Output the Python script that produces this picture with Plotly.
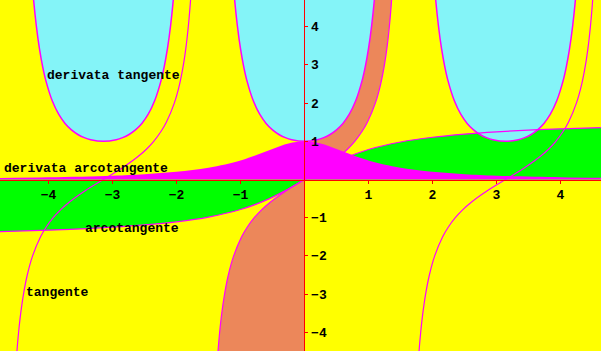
import plotly.graph_objects as go

# ---------------- data ----------------
# axis ranges
X_RANGE = [-4.758, 4.633]
Y_RANGE = [-4.49, 4.70]
TICKS = [-4, -3, -2, -1, 1, 2, 3, 4]

# tangente: three branches (shared y values)
TAN_Y = [-5, -4.5, -4, -3.5, -3, -2.5, -2, -1.5, -1.25, -1, -0.8, -0.6, -0.3, 0,
         0.3, 0.6, 0.8, 1, 1.25, 1.5, 2, 2.5, 3, 3.5, 4, 4.5, 5]
TAN_X_LEFT = [-4.5150, -4.4937, -4.4674, -4.4341, -4.3906, -4.3319, -4.2487, -4.1244,
              -4.0377, -3.9270, -3.8163, -3.6820, -3.4331, -3.1416, -2.8501, -2.6012,
              -2.4669, -2.3562, -2.2455, -2.1588, -2.0345, -1.9513, -1.8926, -1.8491,
              -1.8158, -1.7895, -1.7682]
TAN_X_MID = [-1.3734, -1.3521, -1.3258, -1.2925, -1.2490, -1.1903, -1.1071, -0.9828,
             -0.8961, -0.7854, -0.6747, -0.5404, -0.2915, 0, 0.2915, 0.5404, 0.6747,
             0.7854, 0.8961, 0.9828, 1.1071, 1.1903, 1.2490, 1.2925, 1.3258, 1.3521,
             1.3734]
TAN_X_RIGHT = [1.7682, 1.7895, 1.8158, 1.8491, 1.8926, 1.9513, 2.0345, 2.1588, 2.2455,
               2.3562, 2.4669, 2.6012, 2.8501, 3.1416, 3.4331, 3.6820, 3.8163, 3.9270,
               4.0377, 4.1244, 4.2487, 4.3319, 4.3906, 4.4341, 4.4674, 4.4937, 4.5150]

# derivata tangente: three U-shaped branches (shared y values)
DTAN_Y = [5.9929, 4.8603, 4.0392, 3.4255, 2.9555, 2.5880, 2.0602, 1.7095, 1.4680,
          1.2984, 1.1788, 1.0957, 1.0411, 1.0, 1.0411, 1.0957, 1.1788, 1.2984, 1.4680,
          1.7095, 2.0602, 2.5880, 2.9555, 3.4255, 4.0392, 4.8603, 5.9929]
DTAN_X_LEFT = [-4.2916, -4.2416, -4.1916, -4.1416, -4.0916, -4.0416, -3.9416, -3.8416,
               -3.7416, -3.6416, -3.5416, -3.4416, -3.3416, -3.1416, -2.9416, -2.8416,
               -2.7416, -2.6416, -2.5416, -2.4416, -2.3416, -2.2416, -2.1916, -2.1416,
               -2.0916, -2.0416, -1.9916]
DTAN_X_MID = [-1.15, -1.1, -1.05, -1.0, -0.95, -0.9, -0.8, -0.7, -0.6, -0.5, -0.4, -0.3,
              -0.2, 0, 0.2, 0.3, 0.4, 0.5, 0.6, 0.7, 0.8, 0.9, 0.95, 1.0, 1.05, 1.1, 1.15]
DTAN_X_RIGHT = [1.9916, 2.0416, 2.0916, 2.1416, 2.1916, 2.2416, 2.3416, 2.4416, 2.5416,
                2.6416, 2.7416, 2.8416, 2.9416, 3.1416, 3.3416, 3.4416, 3.5416, 3.6416,
                3.7416, 3.8416, 3.9416, 4.0416, 4.0916, 4.1416, 4.1916, 4.2416, 4.2916]

# arcotangente
ATAN_X = [-4.8, -4, -3.5, -3, -2.5, -2, -1.5, -1, -0.6, -0.3, 0, 0.3, 0.6, 1, 1.5, 2,
          2.5, 3, 3.5, 4, 4.7]
ATAN_Y = [-1.3654, -1.3258, -1.2925, -1.2490, -1.1903, -1.1071, -0.9828, -0.7854,
          -0.5404, -0.2915, 0, 0.2915, 0.5404, 0.7854, 0.9828, 1.1071, 1.1903, 1.2490,
          1.2925, 1.3258, 1.3612]

# derivata arcotangente
DATAN_X = [-4.8, -4, -3, -2.5, -2, -1.5, -1, -0.75, -0.5, -0.25, 0, 0.25, 0.5, 0.75,
           1, 1.5, 2, 2.5, 3, 4, 4.7]
DATAN_Y = [0.0416, 0.0588, 0.1, 0.1379, 0.2, 0.3077, 0.5, 0.64, 0.8, 0.9412, 1.0,
           0.9412, 0.8, 0.64, 0.5, 0.3077, 0.2, 0.1379, 0.1, 0.0588, 0.0433]

LABELS = ["derivata tangente", "derivata arcotangente", "arcotangente", "tangente"]
LABEL_X = [-4.055, -4.727, -3.461, -4.383]
LABEL_Y = [2.736, 0.30, -1.27, -2.97]

# ---------------- styles ----------------
YELLOW = "#FFFF00"
CYAN = "#84F4F8"
BROWN = "#EC875A"
GREEN = "#00FF00"
MAGENTA = "#FF00FF"
RED = "#FF0000"
FONT = "Liberation Mono"

fig = go.Figure()

# fills (bottom layer)
fig.add_trace(go.Scatter(x=ATAN_X, y=ATAN_Y, mode="lines", fill="tozeroy",
                         fillcolor=GREEN, line=dict(width=0, shape="spline")))
fig.add_trace(go.Scatter(x=TAN_X_MID, y=TAN_Y, mode="lines", fill="tozerox",
                         fillcolor=BROWN, line=dict(width=0, shape="spline")))
fig.add_trace(go.Scatter(x=DATAN_X, y=DATAN_Y, mode="lines", fill="tozeroy",
                         fillcolor=MAGENTA, line=dict(width=0, shape="spline")))
for xs in (DTAN_X_LEFT, DTAN_X_MID, DTAN_X_RIGHT):
    fig.add_trace(go.Scatter(x=xs, y=DTAN_Y, mode="lines", fill="toself",
                             fillcolor=CYAN, line=dict(width=0, shape="spline")))

# curves (top layer)
for xs in (DTAN_X_LEFT, DTAN_X_MID, DTAN_X_RIGHT):
    fig.add_trace(go.Scatter(x=xs, y=DTAN_Y, mode="lines",
                             line=dict(color=MAGENTA, width=1.5, shape="spline")))
for xs in (TAN_X_LEFT, TAN_X_MID, TAN_X_RIGHT):
    fig.add_trace(go.Scatter(x=xs, y=TAN_Y, mode="lines",
                             line=dict(color=MAGENTA, width=1.2, shape="spline")))
fig.add_trace(go.Scatter(x=ATAN_X, y=ATAN_Y, mode="lines",
                         line=dict(color=MAGENTA, width=1.2, shape="spline")))

for txt, lx, ly in zip(LABELS, LABEL_X, LABEL_Y):
    fig.add_annotation(x=lx, y=ly, text=txt, showarrow=False, xanchor="left",
                       yanchor="middle",
                       font=dict(family=FONT, size=13, color="black", weight="bold"))

x_zero = (0 - X_RANGE[0]) / (X_RANGE[1] - X_RANGE[0])
y_zero = (0 - Y_RANGE[0]) / (Y_RANGE[1] - Y_RANGE[0])

fig.update_layout(
    width=601, height=351, autosize=False,
    margin=dict(l=0, r=0, t=0, b=0, pad=0),
    paper_bgcolor=YELLOW, plot_bgcolor=YELLOW,
    showlegend=False, hovermode=False,
    xaxis=dict(range=X_RANGE, anchor="free", position=y_zero, showgrid=False,
               zeroline=False, showline=True, linecolor=RED, linewidth=1,
               tickmode="array", tickvals=TICKS, ticks="outside", ticklen=3,
               tickcolor=RED, tickwidth=1,
               tickfont=dict(family=FONT, size=13, color="black", weight="bold")),
    yaxis=dict(range=Y_RANGE, anchor="free", position=x_zero, side="right",
               showgrid=False, zeroline=False, showline=True, linecolor=RED,
               linewidth=1, tickmode="array", tickvals=TICKS, ticks="outside",
               ticklen=3, tickcolor=RED, tickwidth=1,
               tickfont=dict(family=FONT, size=13, color="black", weight="bold")),
)

fig.write_html("out.html", config={"displayModeBar": False})
